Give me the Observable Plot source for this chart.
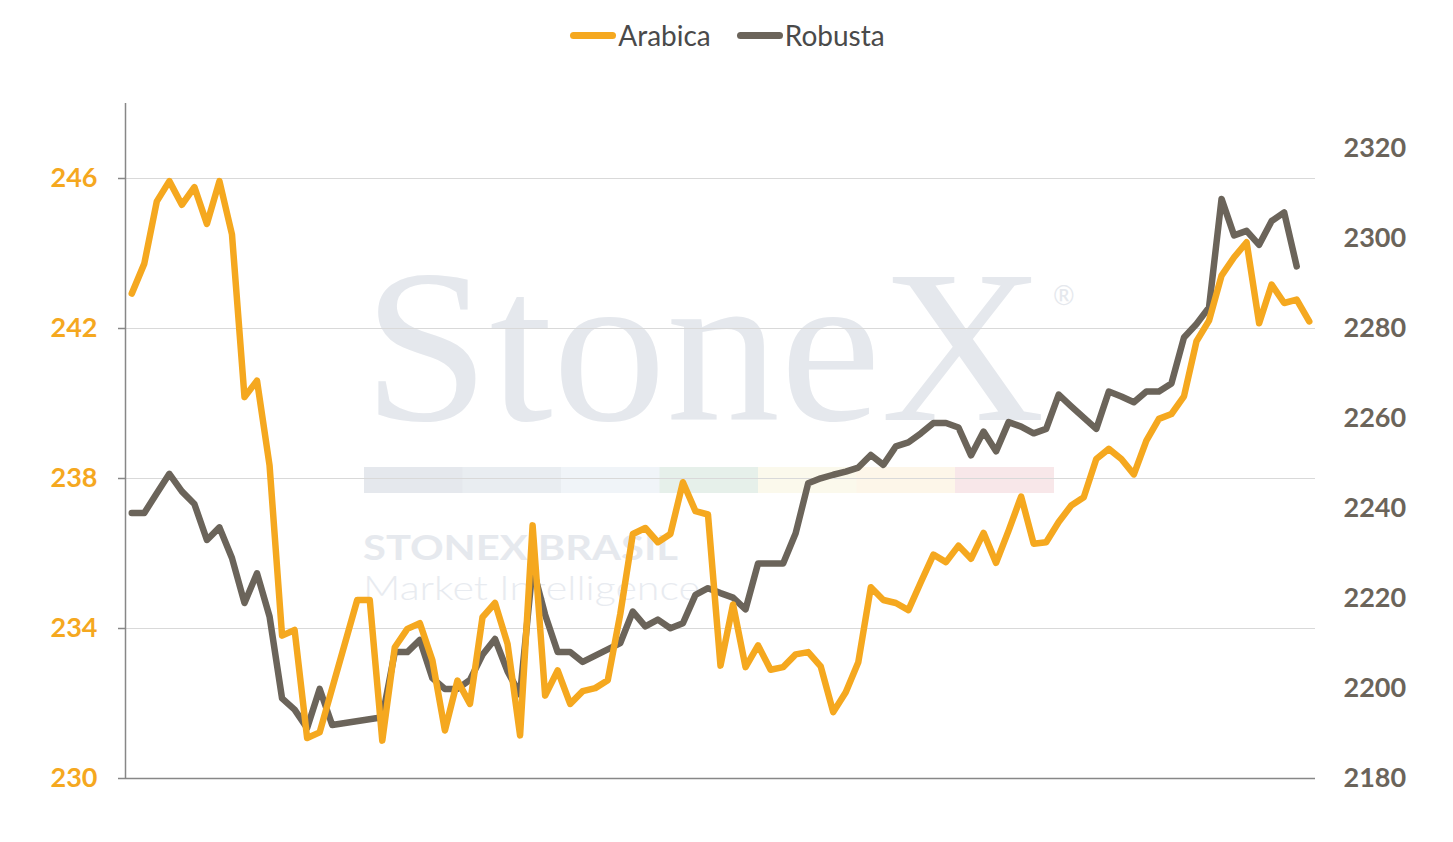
<!DOCTYPE html>
<html>
<head>
<meta charset="utf-8">
<script src="https://cdn.jsdelivr.net/npm/d3@7"></script>
<script src="https://cdn.jsdelivr.net/npm/@observablehq/plot@0.6"></script>
<style>
  body { margin: 0; background: white; font-family: Lato, sans-serif; }
  #wrap { position: relative; width: 1453px; height: 842px; overflow: hidden; }
  #mark { position: absolute; left: 0; top: 0; z-index: 0; pointer-events: none; }
  #legend { position: relative; z-index: 1; height: 70px; display: flex; justify-content: center; align-items: center; gap: 26px; font-size: 28px; color: #4a4a4a; padding-left: 2px; }
  #legend .item { display: flex; align-items: center; gap: 2px; }
  #legend .sw { width: 46px; height: 7px; border-radius: 3.5px; }
  #chart { position: relative; z-index: 1; }
</style>
</head>
<body>
<div id="wrap">
  <svg id="mark" width="1453" height="842">
    <text x="363" y="420" font-family="Liberation Serif" font-size="218" fill="#e5e8ed" textLength="682" lengthAdjust="spacingAndGlyphs">StoneX</text>
    <text x="1053" y="305" font-family="Lato" font-size="26" fill="#e5e8ed">®</text>
    <g id="band"></g>
    <text x="363" y="560" font-family="Lato" font-weight="700" font-size="34" fill="#e6e9ee" textLength="315" lengthAdjust="spacingAndGlyphs">STONEX BRASIL</text>
    <text x="363" y="600" font-family="Lato" font-weight="300" font-size="34" fill="#e8ebf0" textLength="337" lengthAdjust="spacingAndGlyphs">Market Intelligence</text>
  </svg>
  <div id="legend"></div>
  <div id="chart"></div>
</div>
<script>
// daily settlement, one value per trading day (null = no quote that day)
const arabica = [
  242.93, 243.73, 245.39, 245.93, 245.30, 245.77, 244.79, 245.93, 244.51, 240.17,
  240.61, 238.35, 233.81, 233.96, 231.08, 231.23, null, null, 234.76, 234.76,
  231.01, 233.50, 233.99, 234.14, 233.15, 231.28, 232.61, 231.99, 234.30, 234.68,
  233.59, 231.15, 236.75, 232.21, 232.88, 231.99, 232.33, 232.41, 232.62, 234.39,
  236.52, 236.68, 236.30, 236.52, 237.90, 237.13, 237.04, 233.01, 234.64, 232.97,
  233.55, 232.90, 232.97, 233.31, 233.37, 232.99, 231.77, 232.30, 233.10, 235.10,
  234.76, 234.68, 234.49, 235.24, 235.97, 235.77, 236.21, 235.86, 236.55, 235.75,
  236.61, 237.52, 236.26, 236.30, 236.84, 237.28, 237.50, 238.52, 238.79, 238.52,
  238.11, 239.01, 239.59, 239.72, 240.19, 241.66, 242.21, 243.41, 243.90, 244.30,
  242.14, 243.17, 242.68, 242.77, 242.19
]
const robusta = [
  2239.0, 2239.0, 2243.4, 2247.7, 2243.8, 2241.0, 2233.0, 2235.8, 2229.0, 2219.0,
  2225.6, 2216.0, 2197.8, 2195.3, 2191.2, 2199.9, 2191.9, null, null, null,
  2193.6, 2208.1, 2208.1, 2210.8, 2202.3, 2199.9, 2199.9, 2201.9, 2207.5, 2211.0,
  2203.8, 2198.7, 2226.9, 2216.4, 2208.1, 2208.1, 2205.9, null, null, 2210.1,
  2217.1, 2213.8, 2215.3, 2213.4, 2214.5, 2220.8, 2222.3, 2221.2, 2220.2, 2217.6,
  2227.8, 2227.8, 2227.8, 2234.5, 2245.6, 2246.7, 2247.5, 2248.2, 2249.1, 2251.9,
  2249.7, 2253.8, 2254.7, 2256.7, 2259.0, 2259.0, 2258.0, 2251.8, 2257.1, 2252.7,
  2259.2, 2258.2, 2256.7, 2257.7, 2265.3, 2262.7, 2260.2, 2257.7, 2266.0, 2264.9,
  2263.6, 2266.0, 2266.0, 2267.8, 2278.0, 2281.0, 2284.7, 2308.8, 2300.7, 2301.7,
  2298.6, 2303.9, 2305.8, 2293.8, null
]
const leftTicks = [230, 234, 238, 242, 246]
const rightTicks = [2180, 2200, 2220, 2240, 2260, 2280, 2300, 2320]
const leftDomain = [230, 248]
const rightDomain = [2180, 2330]
const seriesNames = ["Arabica", "Robusta"]
const colors = ["#f5a81f", "#6b645a"]
const bandColors = ["#e5e8ed", "#e9edf1", "#f0f4f8", "#e6f0ea", "#fbf9ec", "#fdf6e9", "#f8e7e9"]

// watermark colour band
d3.select('#band').selectAll('rect').data(bandColors).join('rect')
  .attr('x', (d, i) => 364 + i * 98.5).attr('y', 467)
  .attr('width', 99).attr('height', 26).attr('fill', d => d)

// robusta is drawn against the left scale, right axis maps it back
const toLeft = r => leftDomain[0] + (r - rightDomain[0]) * (leftDomain[1] - leftDomain[0]) / (rightDomain[1] - rightDomain[0])
const fromLeft = a => rightDomain[0] + (a - leftDomain[0]) * (rightDomain[1] - rightDomain[0]) / (leftDomain[1] - leftDomain[0])

const rows = arabica.map((a, i) => ({i, arabica: a, robusta: robusta[i]}))

const legend = d3.select('#legend')
seriesNames.forEach((name, k) => {
  const item = legend.append('div').attr('class', 'item')
  item.append('div').attr('class', 'sw').style('background', colors[k])
  item.append('span').text(name)
})

const chart = Plot.plot({
  width: 1453,
  height: 772,
  marginTop: 33,
  marginBottom: 64,
  marginLeft: 125,
  marginRight: 138,
  style: {background: "none", fontFamily: "Lato, sans-serif"},
  x: {domain: [-0.5, arabica.length - 0.5], axis: null},
  y: {domain: leftDomain, axis: null},
  marks: [
    Plot.gridY(leftTicks.slice(1), {stroke: "#d9d9d9", strokeOpacity: 1}),
    Plot.ruleY([leftDomain[0]], {stroke: "#878787", strokeWidth: 1.5}),
    Plot.ruleX([-0.5], {stroke: "#878787", strokeWidth: 1.5}),
    Plot.axisY(leftTicks, {
      anchor: "left", label: null, tickSize: 7, tickPadding: 21, stroke: "#878787", strokeWidth: 1.5,
      fill: colors[0], fontSize: 27, fontWeight: 700, tickFormat: d => String(d)
    }),
    Plot.axisY(rightTicks.map(toLeft), {
      anchor: "right", label: null, tickSize: 0, tickPadding: 28,
      fill: colors[1], fontSize: 27, fontWeight: 700, tickFormat: d => String(Math.round(fromLeft(d)))
    }),
    Plot.line(rows.filter(d => d.robusta != null), {
      x: "i", y: d => toLeft(d.robusta), stroke: colors[1], strokeWidth: 6.5,
      strokeLinecap: "round", strokeLinejoin: "round"
    }),
    Plot.line(rows.filter(d => d.arabica != null), {
      x: "i", y: "arabica", stroke: colors[0], strokeWidth: 6.5,
      strokeLinecap: "round", strokeLinejoin: "round"
    })
  ]
})

d3.select('#chart').append(() => chart)
</script>
</body>
</html>
